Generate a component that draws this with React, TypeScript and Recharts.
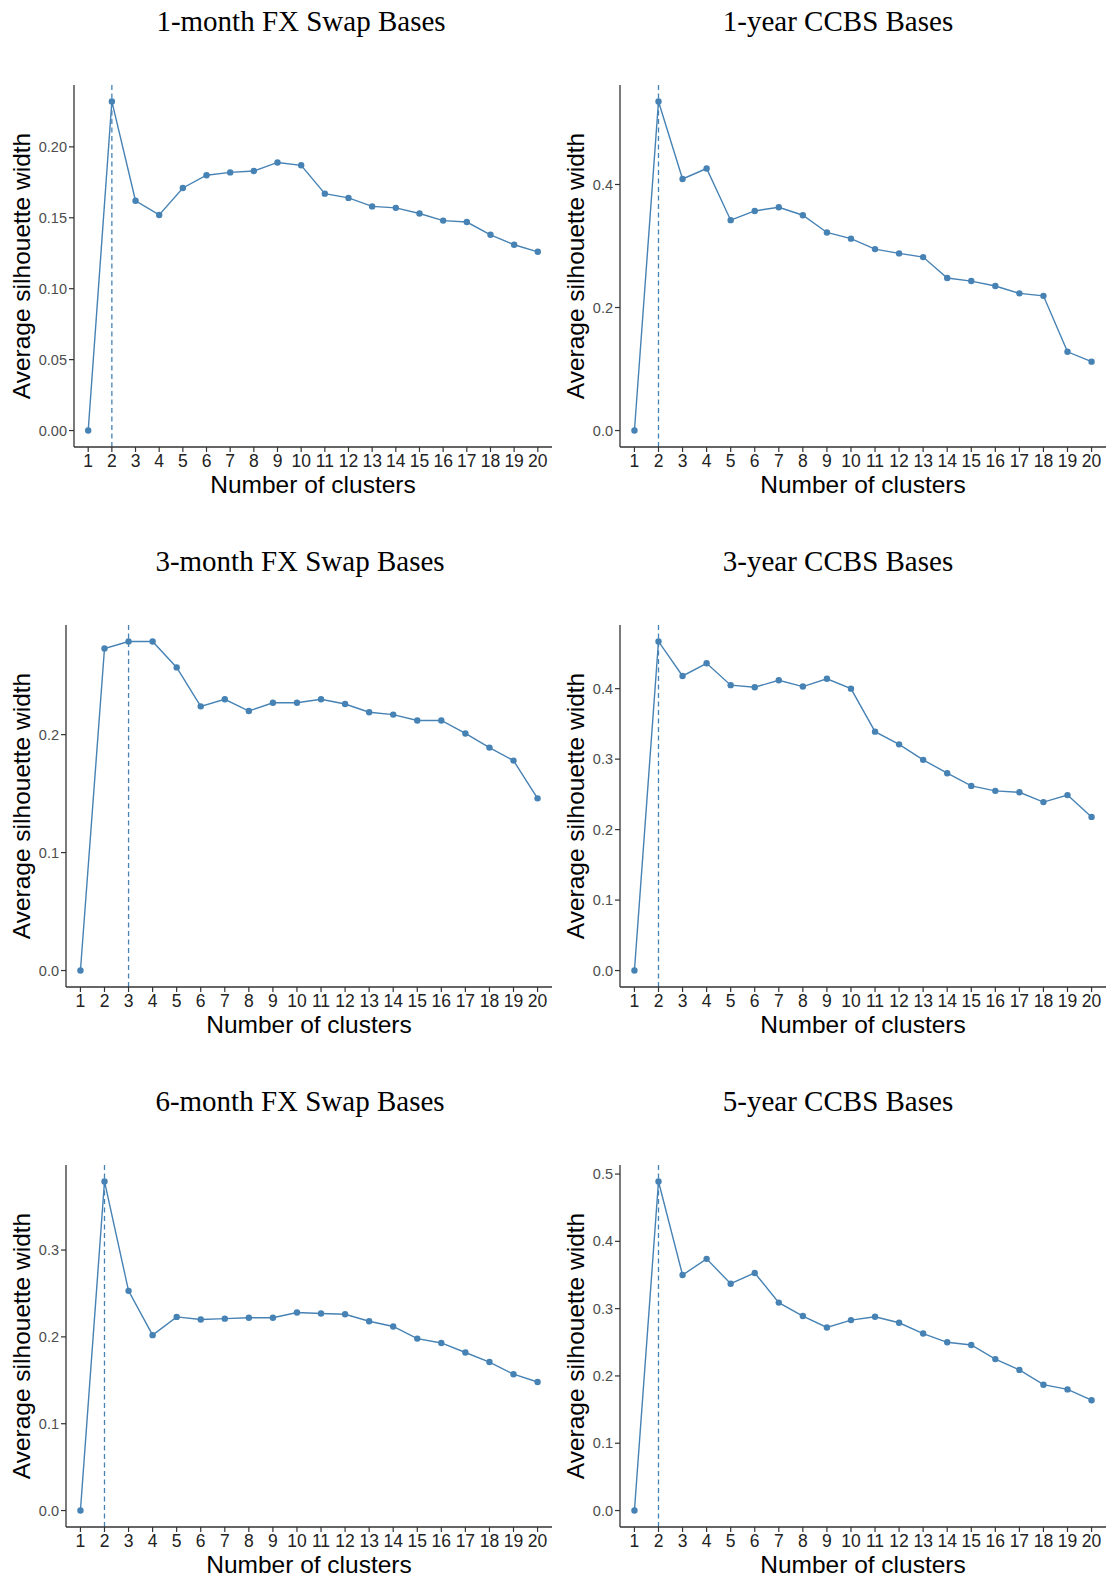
import { LineChart, Line, XAxis, YAxis, ReferenceLine } from "recharts";

const clusters = [1, 2, 3, 4, 5, 6, 7, 8, 9, 10, 11, 12, 13, 14, 15, 16, 17, 18, 19, 20];

const fx1m = [0, 0.232, 0.162, 0.152, 0.171, 0.18, 0.182, 0.183, 0.189, 0.187, 0.167, 0.164, 0.158, 0.157, 0.153, 0.148, 0.147, 0.138, 0.131, 0.126];
const ccbs1y = [0, 0.535, 0.409, 0.426, 0.342, 0.357, 0.363, 0.35, 0.322, 0.312, 0.295, 0.288, 0.282, 0.248, 0.243, 0.235, 0.223, 0.219, 0.128, 0.112];
const fx3m = [0, 0.273, 0.279, 0.279, 0.257, 0.224, 0.23, 0.22, 0.227, 0.227, 0.23, 0.226, 0.219, 0.217, 0.212, 0.212, 0.201, 0.189, 0.178, 0.146];
const ccbs3y = [0, 0.467, 0.418, 0.436, 0.405, 0.402, 0.412, 0.403, 0.414, 0.4, 0.339, 0.321, 0.299, 0.28, 0.262, 0.255, 0.253, 0.239, 0.249, 0.218];
const fx6m = [0, 0.379, 0.253, 0.202, 0.223, 0.22, 0.221, 0.222, 0.222, 0.228, 0.227, 0.226, 0.218, 0.212, 0.198, 0.193, 0.182, 0.171, 0.157, 0.148];
const ccbs5y = [0, 0.489, 0.35, 0.374, 0.337, 0.353, 0.309, 0.289, 0.272, 0.283, 0.288, 0.279, 0.263, 0.25, 0.246, 0.225, 0.209, 0.187, 0.18, 0.164];

const ticksFx1m = [0, 0.05, 0.1, 0.15, 0.2];
const ticksCcbs1y = [0, 0.2, 0.4];
const ticksFx3m = [0, 0.1, 0.2];
const ticksCcbs3y = [0, 0.1, 0.2, 0.3, 0.4];
const ticksFx6m = [0, 0.1, 0.2, 0.3];
const ticksCcbs5y = [0, 0.1, 0.2, 0.3, 0.4, 0.5];

const titles = [
  "1-month FX Swap Bases",
  "1-year CCBS Bases",
  "3-month FX Swap Bases",
  "3-year CCBS Bases",
  "6-month FX Swap Bases",
  "5-year CCBS Bases",
];
const bestK = [2, 2, 3, 2, 2, 2];

const BLUE = "#4682B4";
const AXIS = "#333";
const PANEL_W = 554;
const PANEL_H = 540;

const panels = [
  { values: fx1m, ticks: ticksFx1m, digits: 2, yWidth: 74, titleX: 301 },
  { values: ccbs1y, ticks: ticksCcbs1y, digits: 1, yWidth: 66, titleX: 284 },
  { values: fx3m, ticks: ticksFx3m, digits: 1, yWidth: 66, titleX: 300 },
  { values: ccbs3y, ticks: ticksCcbs3y, digits: 1, yWidth: 66, titleX: 284 },
  { values: fx6m, ticks: ticksFx6m, digits: 1, yWidth: 66, titleX: 300 },
  { values: ccbs5y, ticks: ticksCcbs5y, digits: 1, yWidth: 66, titleX: 284 },
];

function XTitle(props: any) {
  const vb = props.viewBox;
  return (
    <text x={vb.x + vb.width / 2} y={vb.y + 46} textAnchor="middle" fontSize={24.5} fill="#000">
      Number of clusters
    </text>
  );
}

function YTitle(props: any) {
  const vb = props.viewBox;
  const cx = vb.x + 30;
  const cy = vb.y + vb.height / 2;
  return (
    <text x={cx} y={cy} transform={`rotate(-90, ${cx}, ${cy})`} textAnchor="middle" fontSize={24.5} fill="#000">
      Average silhouette width
    </text>
  );
}

function Panel({ idx }: { idx: number }) {
  const p = panels[idx];
  const data = clusters.map((k, i) => ({ k, v: p.values[i] }));
  const max = Math.max(...p.values);
  const pad = max * 0.05;
  return (
    <LineChart width={PANEL_W} height={PANEL_H} data={data} margin={{ top: 85, right: 2, bottom: 33, left: 0 }}>
      <XAxis
        dataKey="k"
        type="number"
        domain={[0.4, 20.6]}
        ticks={clusters}
        interval={0}
        height={60}
        tickSize={5}
        tickMargin={3}
        axisLine={{ stroke: AXIS, strokeWidth: 1.3 }}
        tickLine={{ stroke: AXIS, strokeWidth: 1.2 }}
        tick={{ fontSize: 17.5, fill: "#222" }}
        label={<XTitle />}
      />
      <YAxis
        type="number"
        domain={[-pad, max + pad]}
        ticks={p.ticks}
        interval={0}
        width={p.yWidth}
        tickSize={5}
        tickMargin={2}
        axisLine={{ stroke: AXIS, strokeWidth: 1.3 }}
        tickLine={{ stroke: AXIS, strokeWidth: 1.2 }}
        tick={{ fontSize: 14.5, fill: "#4d4d4d" }}
        tickFormatter={(v: number) => v.toFixed(p.digits)}
        label={<YTitle />}
      />
      <ReferenceLine x={bestK[idx]} stroke={BLUE} strokeWidth={1.3} strokeDasharray="5 3.5" />
      <Line
        type="linear"
        dataKey="v"
        stroke={BLUE}
        strokeWidth={1.4}
        dot={{ r: 3.2, fill: BLUE, stroke: BLUE, strokeWidth: 0 }}
        activeDot={false}
        isAnimationActive={false}
      />
    </LineChart>
  );
}

export default function App() {
  return (
    <div
      style={{
        position: "absolute",
        left: 0,
        top: 0,
        width: 1108,
        height: 1577,
        overflow: "hidden",
        background: "#fff",
        fontFamily: '"Liberation Sans", Arial, sans-serif',
      }}
    >
      {panels.map((p, i) => (
        <div
          key={i}
          style={{
            position: "absolute",
            left: (i % 2) * PANEL_W,
            top: Math.floor(i / 2) * PANEL_H,
            width: PANEL_W,
            height: PANEL_H,
          }}
        >
          <Panel idx={i} />
          <svg width={PANEL_W} height={60} style={{ position: "absolute", left: 0, top: 0, pointerEvents: "none" }}>
            <text
              x={p.titleX}
              y={31}
              textAnchor="middle"
              fontSize={29}
              fontFamily='"Liberation Serif", "Times New Roman", serif'
              fill="#000"
            >
              {titles[i]}
            </text>
          </svg>
        </div>
      ))}
    </div>
  );
}
